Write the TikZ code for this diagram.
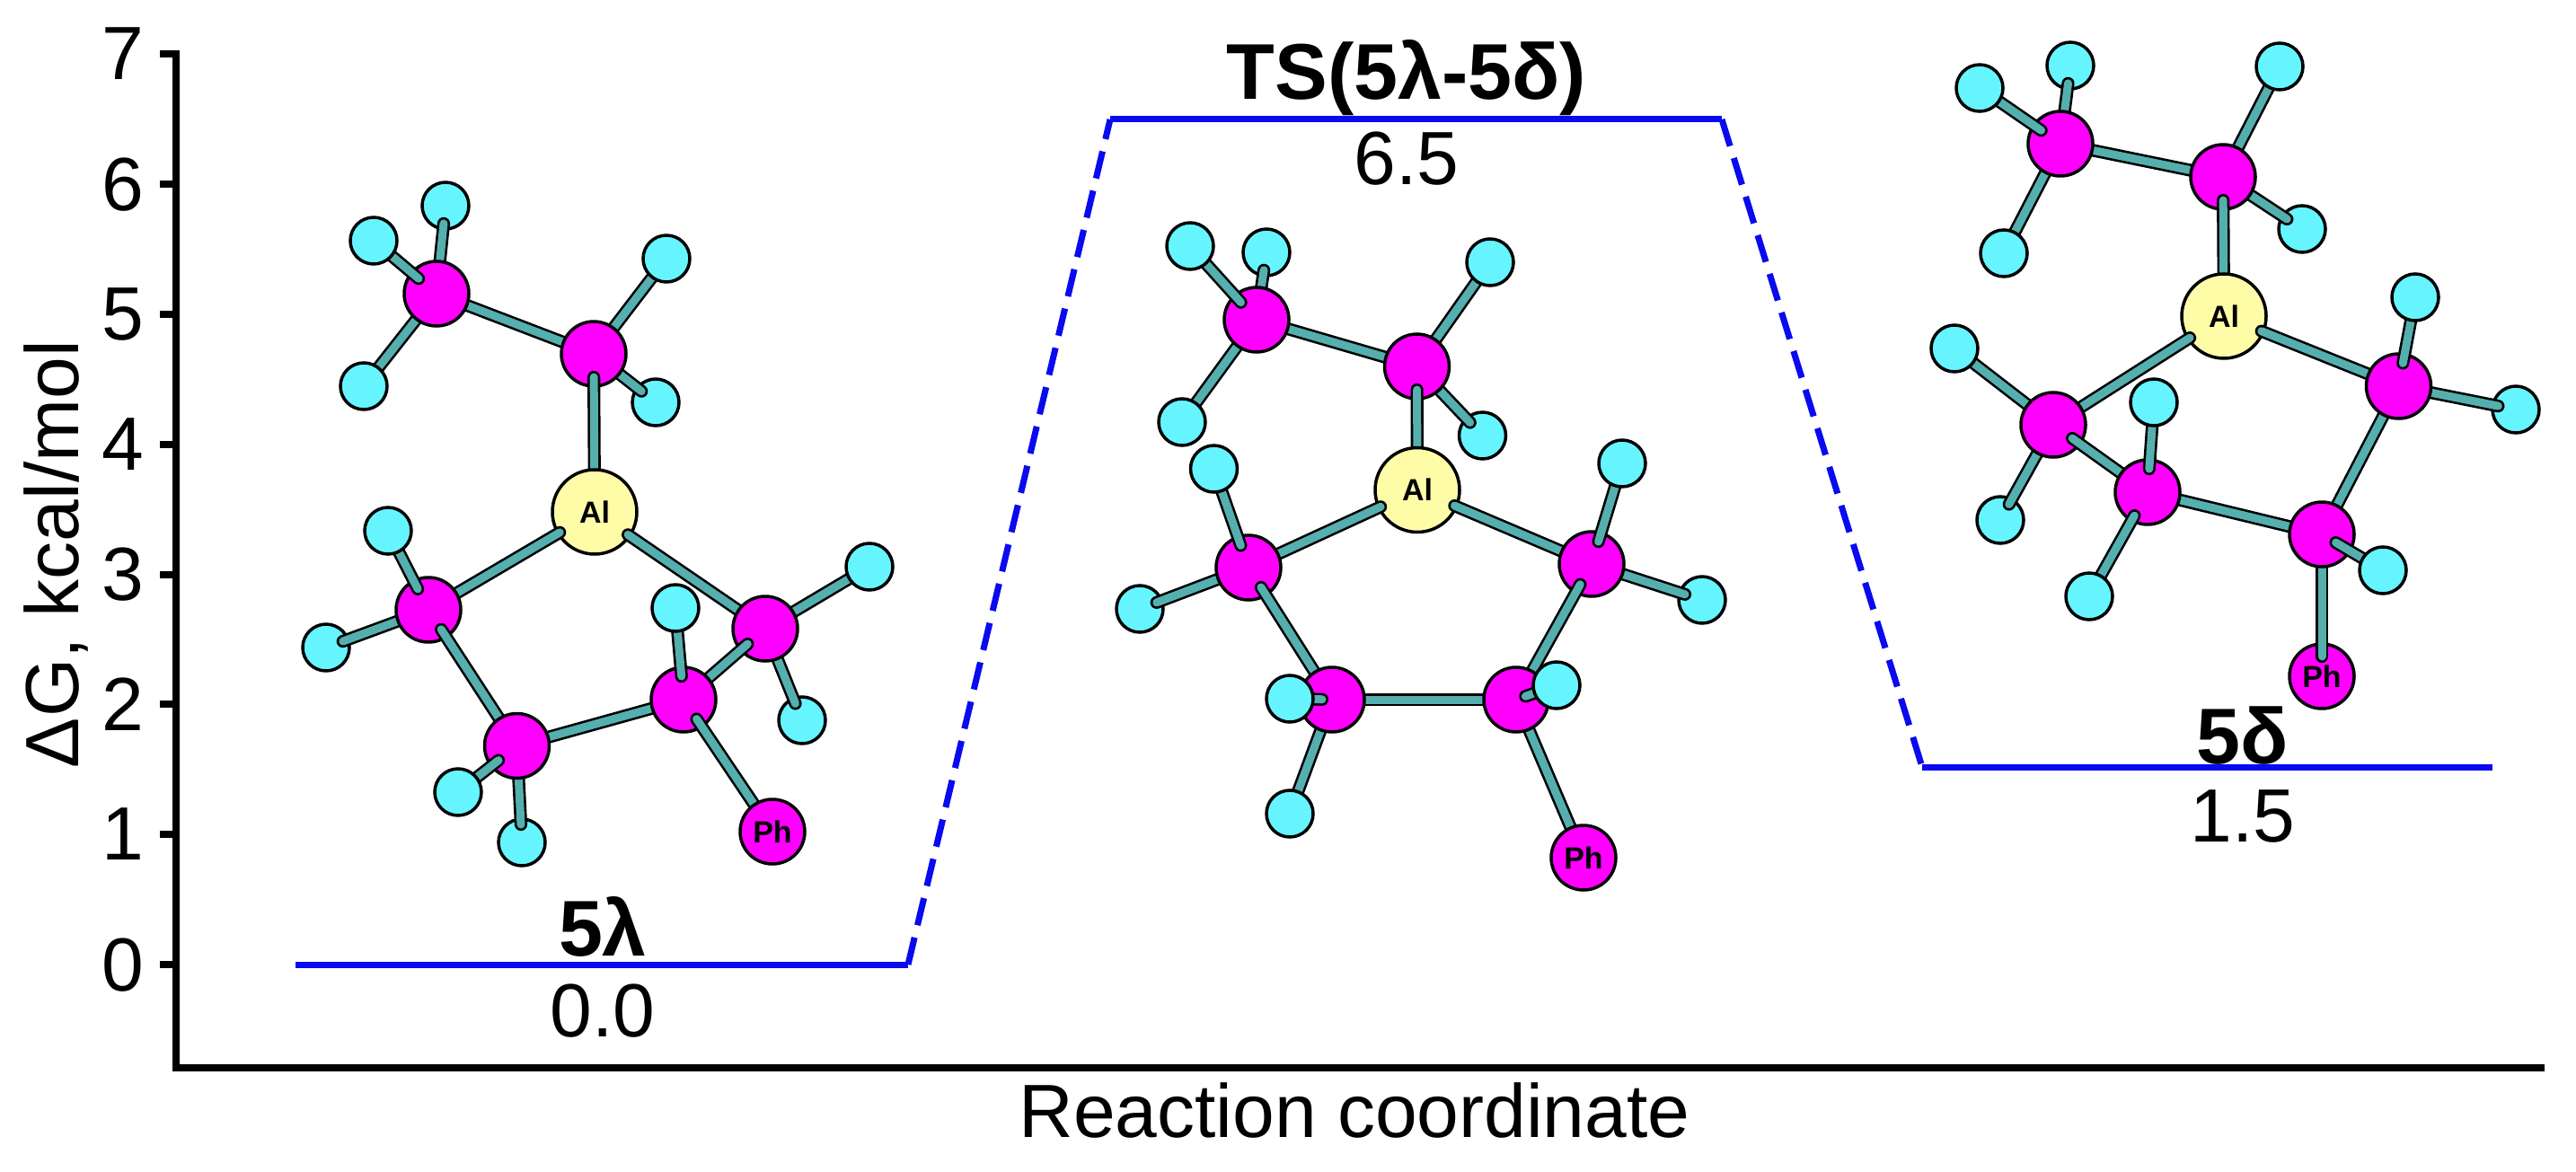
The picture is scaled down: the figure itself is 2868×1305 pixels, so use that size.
\documentclass[tikz,border=0pt]{standalone}
\usepackage{fontspec}
\setmainfont{Liberation Sans}
\usetikzlibrary{calc}
\definecolor{hcol}{HTML}{66F5FF}
\definecolor{ccol}{HTML}{FF00FF}
\definecolor{alcol}{HTML}{FFFCA8}
\definecolor{bondcol}{HTML}{55AFAF}
\definecolor{levelblue}{HTML}{0A0AF0}
\pgfdeclarelayer{b0}\pgfdeclarelayer{a1}\pgfdeclarelayer{b1}\pgfdeclarelayer{a2}\pgfdeclarelayer{b2}
\pgfdeclarelayer{a3}\pgfdeclarelayer{b3}\pgfdeclarelayer{a4}\pgfdeclarelayer{b4}\pgfdeclarelayer{a5}
\pgfdeclarelayer{b5}\pgfdeclarelayer{a6}\pgfdeclarelayer{b6}\pgfdeclarelayer{a7}
\pgfsetlayers{main,b0,a1,b1,a2,b2,a3,b3,a4,b4,a5,b5,a6,b6,a7}
\tikzset{
  atombase/.style={circle,draw=black,line width=3.5pt,inner sep=0pt,outer sep=0pt},
  hatom/.style={atombase,fill=hcol,minimum size=52pt},
  catom/.style={atombase,fill=ccol,minimum size=72pt},
  phatom/.style={atombase,fill=ccol,minimum size=72pt,font=\fontsize{34}{34}\selectfont\bfseries},
  alatom/.style={atombase,fill=alcol,minimum size=94pt,font=\fontsize{34}{34}\selectfont\bfseries},
  bondline/.style={line cap=round,line width=2.6pt,draw=black,double=bondcol,double distance=9pt},
  axisline/.style={line width=8pt,draw=black,line cap=rect},
  tickline/.style={line width=8pt,draw=black},
  levelline/.style={line width=7pt,draw=levelblue},
  leveldash/.style={line width=7pt,draw=levelblue,dash pattern=on 31pt off 14pt},
  ticklabel/.style={font=\fontsize{84}{84}\selectfont,inner sep=0pt,text depth=0pt},
  vallabel/.style={font=\fontsize{84}{84}\selectfont,inner sep=0pt,text depth=0pt},
  namelabel/.style={font=\fontsize{88}{88}\selectfont\bfseries,inner sep=0pt,text depth=0pt},
  axislabel/.style={font=\fontsize{84}{84}\selectfont,inner sep=0pt,text depth=0pt},
}
% level, style, name, x, y, text
\newcommand{\atomnode}[6]{\begin{pgfonlayer}{a#1}\node[#2] (#3) at (#4,#5) {#6};\end{pgfonlayer}}
% far atom, near atom, layer, start offset in the far atom
\newcommand{\bondlink}[4]{\begin{pgfonlayer}{b#3}\draw[bondline] ($(#1.center)!#4pt!(#2.center)$) -- (#2.center);\end{pgfonlayer}}
\begin{document}
\begin{tikzpicture}[x=1pt,y=-1pt]
\useasboundingbox[fill=white] (0,0) rectangle (2868,1305);
% axes
\coordinate (origin) at (196,1189);
\coordinate (ytop) at (196,60);
\coordinate (xend) at (2829,1189);
\draw[axisline] (ytop) -- (origin) -- (xend);
\foreach \v/\yy in {0/1074,1/929,2/784,3/639.5,4/495,5/350,6/205,7/60}{
  \coordinate (tick\v) at (196,\yy);
  \coordinate (tickend\v) at (178,\yy);
  \draw[tickline] (tick\v) -- (tickend\v);
  \node[ticklabel] (lab\v) at (137,\yy) {\v};
}
\node[axislabel,rotate=90] (ylab) at (57,617) {ΔG, kcal/mol};
\node[axislabel] (xlab) at (1508,1236) {Reaction coordinate};
% energy levels
\coordinate (l0a) at (329,1074);\coordinate (l0b) at (1011,1074);
\coordinate (l1a) at (1236,133);\coordinate (l1b) at (1917,133);
\coordinate (l2a) at (2140,854);\coordinate (l2b) at (2775,854);
\draw[levelline] (l0a) -- (l0b);
\draw[levelline] (l1a) -- (l1b);
\draw[levelline] (l2a) -- (l2b);
\draw[leveldash] (l0b) -- (l1a);
\draw[leveldash] (l1b) -- (l2a);
\node[namelabel] (n0) at (671,1031) {5λ};
\node[vallabel] (v0) at (671,1125) {0.0};
\node[namelabel] (n1) at (1566,77) {TS(5λ-5δ)};
\node[vallabel] (v1) at (1566,176) {6.5};
\node[namelabel] (n2) at (2497,819) {5δ};
\node[vallabel] (v2) at (2497,909) {1.5};
% molecule 1
\atomnode{1}{hatom}{ah1b}{496}{229}{}
\atomnode{1}{hatom}{ah1c}{405}{430}{}
\atomnode{2}{catom}{ac1}{486}{327}{}
\atomnode{3}{hatom}{ah1a}{416}{268}{}
\atomnode{1}{hatom}{ah2a}{742}{288}{}
\atomnode{1}{hatom}{ah2b}{730}{448}{}
\atomnode{2}{catom}{ac2}{661}{394}{}
\atomnode{3}{alatom}{aal}{662}{570}{Al}
\atomnode{3}{hatom}{ah3b}{363}{721}{}
\atomnode{4}{catom}{ac3}{477}{679}{}
\atomnode{5}{hatom}{ah3a}{432}{591}{}
\atomnode{1}{hatom}{ah4a}{968}{631}{}
\atomnode{3}{hatom}{ah4b}{893}{802}{}
\atomnode{4}{catom}{ac4}{852}{700}{}
\atomnode{5}{catom}{ac5}{761}{779}{}
\atomnode{6}{hatom}{ah5a}{752}{677}{}
\atomnode{6}{phatom}{aph}{860}{926}{Ph}
\atomnode{5}{catom}{ac6}{575.5}{830.5}{}
\atomnode{6}{hatom}{ah6a}{510}{882}{}
\atomnode{4}{hatom}{ah6b}{581}{938}{}
\bondlink{ah1b}{ac1}{1}{20}
\bondlink{ac1}{ah1a}{2}{26}
\bondlink{ah1c}{ac1}{0}{0}
\bondlink{ac1}{ac2}{0}{0}
\bondlink{ac2}{ah2a}{0}{0}
\bondlink{ah2b}{ac2}{1}{20}
\bondlink{ac2}{aal}{2}{26}
\bondlink{aal}{ac3}{3}{45}
\bondlink{aal}{ac4}{3}{45}
\bondlink{ac3}{ah3a}{4}{26}
\bondlink{ah3b}{ac3}{3}{20}
\bondlink{ac3}{ac6}{4}{26}
\bondlink{ac4}{ah4a}{0}{0}
\bondlink{ah4b}{ac4}{3}{20}
\bondlink{ac4}{ac5}{4}{26}
\bondlink{ac5}{ah5a}{5}{26}
\bondlink{ac5}{aph}{5}{26}
\bondlink{ac5}{ac6}{0}{0}
\bondlink{ac6}{ah6a}{5}{26}
\bondlink{ah6b}{ac6}{4}{20}
% molecule 2
\atomnode{1}{hatom}{bh1b}{1410}{281}{}
\atomnode{1}{hatom}{bh1c}{1316}{470}{}
\atomnode{2}{catom}{bc1}{1399}{356}{}
\atomnode{3}{hatom}{bh1a}{1325}{274}{}
\atomnode{3}{catom}{bc2}{1577.5}{408}{}
\atomnode{1}{hatom}{bh2a}{1659}{292}{}
\atomnode{2}{hatom}{bh2b}{1650.5}{485}{}
\atomnode{4}{alatom}{bal}{1578}{545.5}{Al}
\atomnode{5}{catom}{bc3}{1390}{632}{}
\atomnode{6}{hatom}{bh3a}{1351.5}{522}{}
\atomnode{4}{hatom}{bh3b}{1269}{678}{}
\atomnode{5}{catom}{bc4}{1772}{628}{}
\atomnode{6}{hatom}{bh4a}{1806}{516}{}
\atomnode{4}{hatom}{bh4b}{1895}{668}{}
\atomnode{6}{catom}{bc5}{1483}{779}{}
\atomnode{7}{hatom}{bh5a}{1436}{778}{}
\atomnode{2}{hatom}{bh5b}{1436}{906}{}
\atomnode{6}{catom}{bc6}{1688}{779}{}
\atomnode{7}{hatom}{bh6a}{1733}{763}{}
\atomnode{3}{phatom}{bph}{1763}{955}{Ph}
\bondlink{bh1b}{bc1}{1}{20}
\bondlink{bc1}{bh1a}{2}{26}
\bondlink{bh1c}{bc1}{0}{0}
\bondlink{bc1}{bc2}{0}{0}
\bondlink{bc2}{bh2a}{0}{0}
\bondlink{bh2b}{bc2}{2}{20}
\bondlink{bc2}{bal}{3}{26}
\bondlink{bal}{bc3}{4}{45}
\bondlink{bal}{bc4}{4}{45}
\bondlink{bc3}{bh3a}{5}{26}
\bondlink{bh3b}{bc3}{4}{20}
\bondlink{bc3}{bc5}{5}{26}
\bondlink{bc4}{bh4a}{5}{26}
\bondlink{bh4b}{bc4}{4}{20}
\bondlink{bc4}{bc6}{5}{26}
\bondlink{bc5}{bc6}{0}{0}
\bondlink{bc5}{bh5a}{6}{11}
\bondlink{bc5}{bh5b}{0}{0}
\bondlink{bc6}{bh6a}{6}{11}
\bondlink{bc6}{bph}{0}{0}
% molecule 3
\atomnode{1}{hatom}{ch1b}{2305}{73}{}
\atomnode{1}{hatom}{ch1c}{2231}{282}{}
\atomnode{2}{catom}{cc1}{2294}{160}{}
\atomnode{3}{hatom}{ch1a}{2204}{98}{}
\atomnode{2}{catom}{cc2}{2475}{197}{}
\atomnode{1}{hatom}{ch2a}{2538}{74}{}
\atomnode{1}{hatom}{ch2b}{2563}{255}{}
\atomnode{3}{alatom}{cal}{2476}{352}{Al}
\atomnode{4}{catom}{cc3}{2286}{473}{}
\atomnode{1}{hatom}{ch3a}{2176}{388}{}
\atomnode{3}{hatom}{ch3b}{2227}{579}{}
\atomnode{4}{catom}{cc4}{2670.5}{430}{}
\atomnode{5}{hatom}{ch4a}{2689}{331}{}
\atomnode{3}{hatom}{ch4b}{2801}{456}{}
\atomnode{5}{catom}{cc5}{2391}{548}{}
\atomnode{6}{hatom}{ch5a}{2398}{448}{}
\atomnode{6}{hatom}{ch5b}{2326}{664}{}
\atomnode{4}{catom}{cc6}{2585}{595}{}
\atomnode{5}{hatom}{ch6a}{2653}{635}{}
\atomnode{3}{phatom}{cph}{2585}{753}{Ph}
\bondlink{ch1b}{cc1}{1}{20}
\bondlink{cc1}{ch1a}{2}{26}
\bondlink{ch1c}{cc1}{0}{0}
\bondlink{cc1}{cc2}{0}{0}
\bondlink{cc2}{ch2a}{0}{0}
\bondlink{ch2b}{cc2}{1}{20}
\bondlink{cc2}{cal}{2}{26}
\bondlink{cal}{cc3}{3}{45}
\bondlink{cal}{cc4}{3}{45}
\bondlink{ch3a}{cc3}{0}{0}
\bondlink{ch3b}{cc3}{3}{20}
\bondlink{cc3}{cc5}{4}{26}
\bondlink{cc4}{ch4a}{4}{26}
\bondlink{ch4b}{cc4}{3}{20}
\bondlink{cc4}{cc6}{0}{0}
\bondlink{cc5}{ch5a}{5}{26}
\bondlink{cc5}{ch5b}{5}{30}
\bondlink{cc5}{cc6}{0}{0}
\bondlink{cc6}{ch6a}{4}{18}
\bondlink{cph}{cc6}{3}{22}
\end{tikzpicture}
\end{document}
